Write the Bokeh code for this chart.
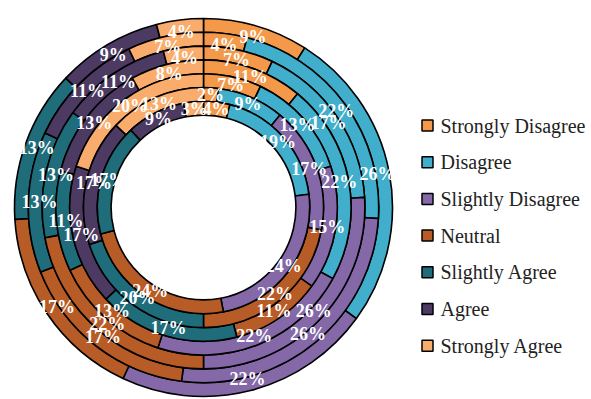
import numpy as np
from bokeh.plotting import figure
from bokeh.models import ColumnDataSource
from bokeh.core.properties import value
from bokeh.embed import file_html
from bokeh.resources import INLINE

categories = ["Strongly Disagree", "Disagree", "Slightly Disagree", "Neutral",
              "Slightly Agree", "Agree", "Strongly Agree"]
colors = ["#F4994A", "#41AECB", "#8468A8", "#B75B27", "#1F6C7B", "#4C3A62", "#F9AC6B"]

# one list per ring, outermost first, values in percent per category
ring1 = [9, 26, 22, 17, 13, 9, 4]
ring2 = [4, 22, 26, 17, 13, 11, 7]
ring3 = [7, 17, 26, 22, 13, 11, 4]
ring4 = [11, 22, 22, 13, 11, 13, 8]
ring5 = [7, 13, 15, 11, 17, 17, 20]
ring6 = [2, 9, 17, 22, 20, 17, 13]
ring7 = [4, 19, 24, 24, 17, 9, 3]
rings = [ring1, ring2, ring3, ring4, ring5, ring6, ring7]

SERIF = "Liberation Serif"

W, H = 591, 399
cx, cy = 203, 399 - 207
R_out = 189.0
ring_w = 13.8

p = figure(width=W, height=H, x_range=(0, W), y_range=(0, H),
           output_backend="svg", toolbar_location=None, min_border=0)
p.axis.visible = False
p.grid.visible = False
p.outline_line_color = None
p.background_fill_color = "white"
p.border_fill_color = "white"

wx, wy, wir, wor, wsa, wea, wcol = [], [], [], [], [], [], []
tx, ty, tt = [], [], []
for k, vals in enumerate(rings):
    outer = R_out - k * ring_w
    inner = outer - ring_w
    mid_r = (outer + inner) / 2 - 5.0 * (len(rings) - 1 - k) / (len(rings) - 1)
    tot = float(sum(vals))
    cum = 0.0
    for i, v in enumerate(vals):
        f0 = cum / tot
        f1 = (cum + v) / tot
        cum += v
        wx.append(cx); wy.append(cy)
        wir.append(inner); wor.append(outer)
        wsa.append(np.pi / 2 - 2 * np.pi * f0)
        wea.append(np.pi / 2 - 2 * np.pi * f1)
        wcol.append(colors[i])
        fm = (f0 + f1) / 2
        ang = np.pi / 2 - 2 * np.pi * fm
        tx.append(cx + mid_r * np.cos(ang))
        ty.append(cy + mid_r * np.sin(ang))
        tt.append(f"{v}%")

src = ColumnDataSource(dict(x=wx, y=wy, ir=wir, orr=wor, sa=wsa, ea=wea, c=wcol))
p.annular_wedge(x="x", y="y", inner_radius="ir", outer_radius="orr",
                start_angle="sa", end_angle="ea", direction="clock",
                fill_color="c", line_color="black", line_width=1.6, source=src)

tsrc = ColumnDataSource(dict(x=tx, y=ty, t=tt))
p.text(x="x", y="y", text="t", source=tsrc, text_color="white",
       text_font=value(SERIF), text_font_style="bold",
       text_font_size="18px", text_align="center", text_baseline="middle")

# legend (manual)
leg_y0 = 399 - 125
leg_dy = 36.7
lx = [427] * len(categories)
ly = [leg_y0 - i * leg_dy for i in range(len(categories))]
p.scatter(x=lx, y=ly, marker="square", size=11, fill_color=colors,
          line_color="black", line_width=1.5)
p.text(x=[440] * len(categories), y=ly, text=categories,
       text_font=value(SERIF), text_font_size="20px",
       text_color="#222222", text_baseline="middle", text_align="left")

open("out.html", "w").write(file_html(p, INLINE))
